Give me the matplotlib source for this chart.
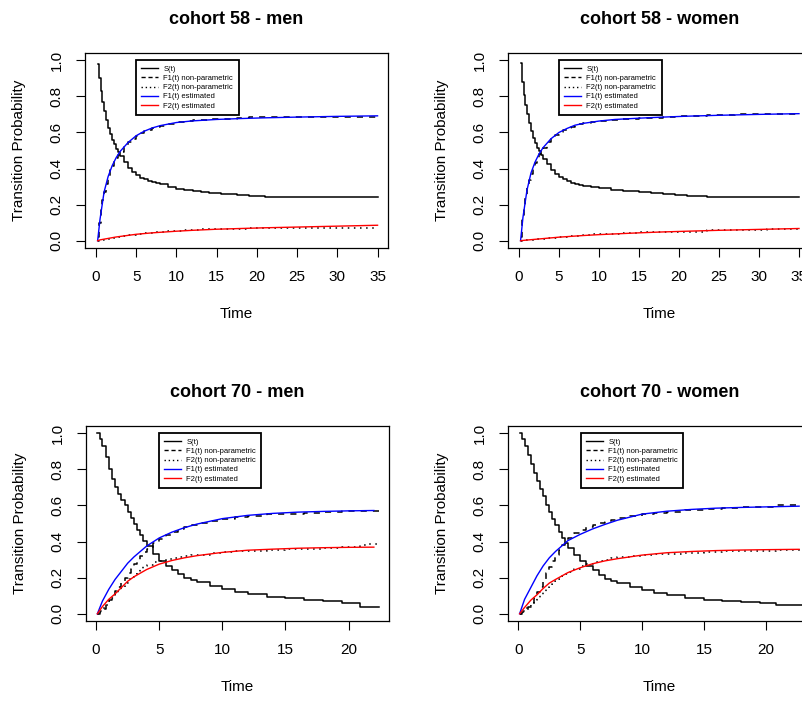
import numpy as np
import matplotlib
matplotlib.use("Agg")
from matplotlib import pyplot as plt
from matplotlib.lines import Line2D

plt.rcParams['font.family'] = ['Liberation Sans', 'DejaVu Sans']

# ---- cohort 58 - men ----
m58_t = [0.2, 0.4, 0.6, 0.8, 1.0, 1.25, 1.5, 1.75, 2.0, 2.25, 2.5, 2.75, 3.0, 3.5, 4.0, 4.5, 5.0, 5.5, 6.0, 6.5,
         7.0, 7.5, 8.0, 9.0, 10, 11, 12, 13, 14, 15.5, 17.5, 19, 21, 22.5, 25, 27, 31, 35]
m58_S = [0.978, 0.90, 0.83, 0.77, 0.72, 0.67, 0.625, 0.59, 0.56, 0.535, 0.51, 0.49, 0.47, 0.435, 0.405, 0.38, 0.362, 0.35, 0.34, 0.332,
         0.325, 0.318, 0.312, 0.300, 0.289, 0.280, 0.273, 0.268, 0.263, 0.257, 0.251, 0.248, 0.243, 0.242, 0.241, 0.241, 0.241, 0.241]
m58_F1 = [0.02, 0.10, 0.17, 0.225, 0.27, 0.315, 0.355, 0.39, 0.415, 0.44, 0.46, 0.475, 0.49, 0.52, 0.545, 0.565, 0.58, 0.595, 0.607, 0.615,
          0.622, 0.63, 0.636, 0.648, 0.656, 0.662, 0.667, 0.671, 0.674, 0.676, 0.678, 0.683, 0.684, 0.686, 0.687, 0.688, 0.688, 0.688]
m58_F2 = [0.0, 0.002, 0.004, 0.006, 0.008, 0.010, 0.012, 0.013, 0.015, 0.017, 0.019, 0.021, 0.023, 0.027, 0.030, 0.033, 0.036, 0.039, 0.041, 0.043,
          0.045, 0.047, 0.048, 0.052, 0.055, 0.058, 0.061, 0.063, 0.064, 0.065, 0.066, 0.070, 0.070, 0.071, 0.071, 0.073, 0.073, 0.073]
m58_te = [0.2, 0.5, 1, 1.5, 2, 2.5, 3, 4, 5, 6, 7, 8, 10, 12, 15, 18, 21, 25, 30, 35]
m58_F1e = [0.0, 0.12, 0.27, 0.355, 0.415, 0.46, 0.495, 0.545, 0.582, 0.607, 0.625, 0.638, 0.655, 0.664, 0.672, 0.677, 0.681, 0.685, 0.689, 0.692]
m58_F2e = [0.0, 0.005, 0.009, 0.013, 0.017, 0.021, 0.024, 0.030, 0.036, 0.040, 0.044, 0.047, 0.053, 0.058, 0.064, 0.068, 0.072, 0.076, 0.081, 0.086]

# ---- cohort 58 - women ----
w58_t = [0.2, 0.4, 0.6, 0.8, 1.0, 1.25, 1.5, 1.75, 2.0, 2.25, 2.5, 2.75, 3.0, 3.5, 4.0, 4.5, 5.0, 5.5, 6.0, 6.5,
         7.0, 7.5, 8.0, 9.0, 10, 11.5, 13, 15, 16.5, 18, 19.5, 21, 23.5, 27, 31, 35]
w58_S = [0.985, 0.88, 0.81, 0.75, 0.70, 0.65, 0.61, 0.57, 0.54, 0.515, 0.495, 0.475, 0.455, 0.425, 0.39, 0.37, 0.355, 0.342, 0.332, 0.322,
         0.313, 0.307, 0.303, 0.298, 0.293, 0.283, 0.275, 0.268, 0.264, 0.258, 0.253, 0.248, 0.242, 0.241, 0.241, 0.241]
w58_F1 = [0.02, 0.12, 0.18, 0.24, 0.29, 0.335, 0.37, 0.405, 0.43, 0.455, 0.48, 0.50, 0.515, 0.545, 0.565, 0.585, 0.60, 0.612, 0.622, 0.632,
          0.642, 0.648, 0.652, 0.658, 0.663, 0.67, 0.675, 0.68, 0.682, 0.687, 0.69, 0.693, 0.698, 0.70, 0.70, 0.70]
w58_F2 = [0.0, 0.001, 0.002, 0.003, 0.004, 0.005, 0.006, 0.007, 0.008, 0.009, 0.010, 0.011, 0.012, 0.014, 0.016, 0.018, 0.020, 0.022, 0.024, 0.026,
          0.027, 0.029, 0.032, 0.035, 0.036, 0.040, 0.045, 0.046, 0.047, 0.050, 0.050, 0.050, 0.057, 0.057, 0.063, 0.063]
w58_te = [0.2, 0.5, 1, 1.5, 2, 2.5, 3, 4, 5, 6, 7, 8, 10, 12, 15, 18, 21, 25, 30, 35]
w58_F1e = [0.0, 0.13, 0.28, 0.375, 0.435, 0.48, 0.515, 0.565, 0.60, 0.622, 0.64, 0.65, 0.663, 0.672, 0.679, 0.685, 0.69, 0.695, 0.70, 0.704]
w58_F2e = [0.0, 0.002, 0.004, 0.006, 0.008, 0.010, 0.012, 0.016, 0.020, 0.023, 0.026, 0.029, 0.034, 0.038, 0.044, 0.049, 0.053, 0.058, 0.063, 0.068]

# ---- cohort 70 - men ----
m70_t = [0.1, 0.3, 0.5, 0.75, 1.0, 1.25, 1.5, 1.75, 2.0, 2.25, 2.5, 2.75, 3.0, 3.25, 3.5, 3.75, 4.0, 4.5, 5.0, 5.5,
         6.0, 6.5, 7.0, 7.5, 8.0, 9.0, 10, 11, 12, 13.5, 15, 16.5, 18, 19.5, 20.9, 21.5, 22.4]
m70_S = [1.0, 0.97, 0.93, 0.87, 0.80, 0.745, 0.70, 0.665, 0.63, 0.60, 0.565, 0.53, 0.495, 0.465, 0.435, 0.405, 0.375, 0.33, 0.295, 0.265,
         0.24, 0.22, 0.20, 0.185, 0.175, 0.155, 0.138, 0.122, 0.11, 0.095, 0.087, 0.079, 0.068, 0.058, 0.04, 0.04, 0.04]
m70_F1 = [0.0, 0.01, 0.025, 0.05, 0.075, 0.10, 0.125, 0.15, 0.175, 0.20, 0.225, 0.25, 0.275, 0.30, 0.32, 0.34, 0.36, 0.39, 0.415, 0.435,
          0.455, 0.468, 0.48, 0.49, 0.50, 0.515, 0.525, 0.535, 0.542, 0.55, 0.555, 0.56, 0.565, 0.568, 0.57, 0.57, 0.57]
m70_F2 = [0.0, 0.015, 0.03, 0.05, 0.07, 0.09, 0.11, 0.13, 0.15, 0.17, 0.19, 0.205, 0.22, 0.235, 0.25, 0.262, 0.272, 0.285, 0.295, 0.305,
          0.31, 0.315, 0.32, 0.325, 0.328, 0.335, 0.34, 0.345, 0.35, 0.355, 0.36, 0.36, 0.365, 0.37, 0.38, 0.385, 0.385]
m70_te = [0.1, 0.5, 1, 1.5, 2, 2.5, 3, 4, 5, 6, 7, 8, 10, 12, 14, 16, 18, 20, 22]
m70_F1e = [0.0, 0.07, 0.135, 0.19, 0.235, 0.28, 0.315, 0.375, 0.42, 0.452, 0.477, 0.497, 0.527, 0.545, 0.556, 0.563, 0.567, 0.57, 0.572]
m70_F2e = [0.0, 0.04, 0.08, 0.11, 0.145, 0.18, 0.205, 0.245, 0.275, 0.295, 0.31, 0.322, 0.34, 0.352, 0.358, 0.363, 0.366, 0.368, 0.369]

# ---- cohort 70 - women ----
w70_t = [0.1, 0.3, 0.5, 0.75, 1.0, 1.25, 1.5, 1.75, 2.0, 2.25, 2.5, 2.75, 3.0, 3.25, 3.5, 3.75, 4.0, 4.5, 5.0, 5.5,
         6.0, 6.5, 7.0, 7.5, 8.0, 9.0, 10, 11, 12, 13.5, 15, 16.5, 18, 19.5, 20.8, 22, 23.5]
w70_S = [1.0, 0.97, 0.93, 0.88, 0.83, 0.78, 0.735, 0.69, 0.65, 0.605, 0.565, 0.525, 0.49, 0.455, 0.42, 0.39, 0.365, 0.325, 0.29, 0.262,
         0.24, 0.215, 0.195, 0.18, 0.168, 0.148, 0.13, 0.115, 0.103, 0.09, 0.078, 0.07, 0.063, 0.057, 0.048, 0.048, 0.048]
w70_F1 = [0.0, 0.01, 0.02, 0.035, 0.06, 0.09, 0.12, 0.15, 0.185, 0.225, 0.26, 0.295, 0.325, 0.355, 0.38, 0.40, 0.42, 0.445, 0.465, 0.48,
          0.49, 0.50, 0.51, 0.52, 0.528, 0.54, 0.55, 0.556, 0.565, 0.575, 0.582, 0.585, 0.59, 0.592, 0.60, 0.60, 0.60]
w70_F2 = [0.0, 0.015, 0.03, 0.045, 0.06, 0.075, 0.09, 0.105, 0.12, 0.135, 0.15, 0.165, 0.18, 0.195, 0.21, 0.222, 0.233, 0.25, 0.263, 0.275,
          0.285, 0.293, 0.30, 0.307, 0.313, 0.32, 0.325, 0.331, 0.332, 0.335, 0.34, 0.345, 0.347, 0.35, 0.352, 0.352, 0.352]
w70_te = [0.1, 0.5, 1, 1.5, 2, 2.5, 3, 4, 5, 6, 7, 8, 10, 12, 14, 16, 18, 20, 22.7]
w70_F1e = [0.0, 0.08, 0.145, 0.21, 0.265, 0.31, 0.345, 0.405, 0.44, 0.47, 0.495, 0.518, 0.552, 0.568, 0.578, 0.585, 0.589, 0.592, 0.596]
w70_F2e = [0.0, 0.035, 0.075, 0.105, 0.14, 0.17, 0.19, 0.228, 0.255, 0.277, 0.293, 0.305, 0.325, 0.338, 0.345, 0.35, 0.353, 0.355, 0.357]

titles = ["cohort 58 - men", "cohort 58 - women", "cohort 70 - men", "cohort 70 - women"]
labels = ["S(t)", "F1(t) non-parametric", "F2(t) non-parametric", "F1(t) estimated", "F2(t) estimated"]

W, H = 803, 702
fig = plt.figure(figsize=(W / 100, H / 100), dpi=100)

# axes boxes in pixels: left, top (width 303, height 195)
boxes = [(85, 53), (508, 53), (86, 426), (508, 426)]
xlims = [(-1.37, 36.3), (-1.37, 36.5), (-0.8, 23.2), (-0.84, 23.66)]
xticks = [np.arange(0, 36, 5), np.arange(0, 36, 5), np.arange(0, 21, 5), np.arange(0, 21, 5)]
leg_x = [0.168, 0.168, 0.24, 0.24]

panels = [
    (m58_t, m58_S, m58_F1, m58_F2, m58_te, m58_F1e, m58_F2e),
    (w58_t, w58_S, w58_F1, w58_F2, w58_te, w58_F1e, w58_F2e),
    (m70_t, m70_S, m70_F1, m70_F2, m70_te, m70_F1e, m70_F2e),
    (w70_t, w70_S, w70_F1, w70_F2, w70_te, w70_F1e, w70_F2e),
]

dash = (0, (4, 4))
dot = (0, (1, 3))

for i, (t, S, F1, F2, te, F1e, F2e) in enumerate(panels):
    l, tp = boxes[i]
    ax = fig.add_axes([l / W, 1 - (tp + 195) / H, 303 / W, 195 / H])
    ax.step(t, S, where='post', color='black', lw=1.1)
    ax.step(t, F1, where='post', color='black', lw=1.1, linestyle=dash)
    ax.step(t, F2, where='post', color='black', lw=1.1, linestyle=dot)
    ax.plot(te, F1e, color='blue', lw=1.0)
    ax.plot(te, F2e, color='red', lw=1.0)

    ax.set_xlim(*xlims[i])
    ax.set_ylim(-0.04, 1.04)
    ax.set_xticks(xticks[i])
    ax.set_yticks([0.0, 0.2, 0.4, 0.6, 0.8, 1.0])
    ax.set_yticklabels(["0.0", "0.2", "0.4", "0.6", "0.8", "1.0"], rotation=90, va='center')
    ax.tick_params(direction='out', length=6.5, width=0.8, labelsize=11, pad=9)
    for sp in ax.spines.values():
        sp.set_linewidth(0.9)
    ax.set_title(titles[i], fontsize=13, fontweight='bold', pad=21)
    ax.set_xlabel("Time", fontsize=11, labelpad=17)
    ax.set_ylabel("Transition Probability", fontsize=11, labelpad=17)

    handles = [
        Line2D([], [], color='black', lw=1.0),
        Line2D([], [], color='black', lw=1.0, linestyle=(0, (3, 2))),
        Line2D([], [], color='black', lw=1.0, linestyle=(0, (1, 2))),
        Line2D([], [], color='blue', lw=1.0),
        Line2D([], [], color='red', lw=1.0),
    ]
    leg = ax.legend(handles, labels, loc='upper left', bbox_to_anchor=(leg_x[i], 0.964),
                    fontsize=5.5, frameon=True, fancybox=False, framealpha=1,
                    edgecolor='black', borderpad=0.7, labelspacing=0.25,
                    handlelength=2.2, handletextpad=0.7, borderaxespad=0)
    leg.get_frame().set_linewidth(1.3)

fig.savefig("out.png", dpi=100)
